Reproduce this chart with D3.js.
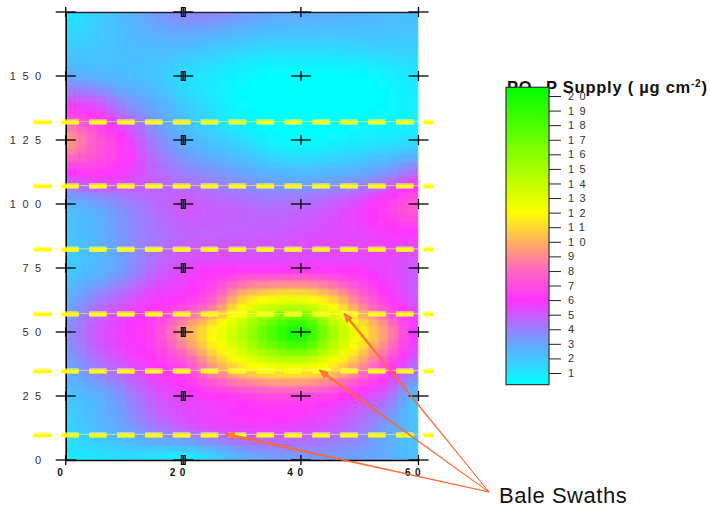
<!DOCTYPE html>
<html>
<head>
<meta charset="utf-8">
<style>
  html, body { margin: 0; background: #fff; }
  svg { display: block; font-family: "Liberation Sans", Arial, sans-serif; }
</style>
</head>
<body>
<div id="chart"></div>
<script src="https://cdn.jsdelivr.net/npm/d3@7"></script>
<script>
const width = 710, height = 510;

// sample positions of the field
const gridX = [0, 5, 10, 15, 20, 25, 30, 35, 40, 45, 50, 55, 60];
const gridY = [175, 162.5, 150, 137.5, 125, 112.5, 100, 87.5, 75, 62.5, 50, 37.5, 25, 12.5, 0];
const supply = [
  [1.0, 1.6, 2.4, 3.2, 3.8, 3.8, 3.4, 3.0, 2.8, 2.7, 2.5, 2.3, 2.2],
  [1.7, 1.9, 2.2, 2.4, 2.4, 2.1, 1.8, 1.6, 1.6, 1.6, 1.7, 1.8, 1.8],
  [3.0, 2.6, 2.3, 2.0, 1.3, 0.9, 0.5, 0.2, 0.2, 0.2, 0.3, 0.6, 1.0],
  [6.0, 5.6, 4.0, 3.0, 1.9, 1.1, 0.4, 0.2, 0.1, 0.1, 0.2, 0.4, 0.7],
  [9.5, 7.5, 6.0, 4.0, 2.7, 1.9, 1.3, 0.6, 0.3, 0.5, 0.8, 1.0, 1.2],
  [6.0, 6.3, 5.8, 4.8, 4.0, 3.5, 3.0, 2.5, 2.3, 2.5, 2.8, 3.5, 4.5],
  [2.5, 3.0, 3.8, 4.5, 5.0, 4.8, 4.6, 4.4, 4.5, 4.9, 5.5, 6.5, 7.5],
  [2.0, 2.5, 3.5, 4.2, 4.7, 4.8, 4.9, 5.0, 5.2, 5.4, 5.5, 5.8, 5.8],
  [1.8, 2.4, 3.3, 4.6, 5.4, 5.8, 6.0, 6.0, 6.1, 6.0, 5.8, 5.5, 5.0],
  [2.8, 4.0, 5.0, 5.8, 6.3, 7.8, 11.0, 12.5, 12.8, 11.2, 8.5, 6.3, 5.0],
  [3.6, 5.0, 5.8, 6.6, 9.5, 12.0, 14.5, 18.0, 20.0, 15.5, 12.0, 9.0, 5.5],
  [3.0, 4.2, 5.2, 6.0, 7.0, 9.6, 11.8, 13.0, 13.3, 12.0, 9.5, 6.8, 4.5],
  [2.0, 2.6, 3.7, 5.0, 5.6, 6.0, 6.5, 7.0, 7.0, 6.5, 5.6, 4.5, 2.0],
  [1.5, 2.2, 3.0, 4.0, 4.8, 5.3, 5.6, 5.6, 5.4, 5.0, 4.2, 3.0, 2.0],
  [0.9, 1.0, 1.1, 0.9, 0.5, 1.3, 2.4, 3.0, 3.2, 3.1, 3.0, 2.7, 2.0]
];

const xTicks = [0, 20, 40, 60];
const yTicks = [0, 25, 50, 75, 100, 125, 150];
const crossY = [0, 25, 50, 75, 100, 125, 150, 175];
const legendTicks = d3.range(1, 21);
const swaths = [132, 107, 82.3, 57, 34.8, 9.8];
const swathExtent = [-5.5, 62.5];

const colorValues = [0.2, 1, 2, 3, 4, 6, 8, 10, 12, 20.6];
const colorStops = ["#00ffff", "#1fe6ff", "#45c4ff", "#66a6ff", "#9a80ff", "#ff33ff", "#ff66c2", "#ffb060", "#ffff00", "#00ff00"];

const calloutFrom = [72, -12.5];
const calloutTips = [[47.3, 57.4], [43.1, 35.2], [27.1, 10.2]];

const x = d3.scaleLinear().domain([0, 60]).range([65.7, 418.5]);
const y = d3.scaleLinear().domain([0, 175]).range([460, 12]);
const color = d3.scaleLinear().domain(colorValues).range(colorStops).clamp(true);
const legendY = d3.scaleLinear().domain([1, 20]).range([373, 96]);

const svg = d3.select("#chart").append("svg")
    .attr("width", width)
    .attr("height", height)
    .attr("viewBox", [0, 0, width, height]);

const defs = svg.append("defs");
defs.append("clipPath").attr("id", "plot")
  .append("rect")
    .attr("x", x(0)).attr("y", y(175))
    .attr("width", x(60) - x(0)).attr("height", y(0) - y(175));
defs.append("filter").attr("id", "soft")
    .attr("x", "-2%").attr("y", "-2%").attr("width", "104%").attr("height", "104%")
  .append("feGaussianBlur").attr("stdDeviation", 0.8);

// field: raster of small cells, like the gridded surface in the original
const nx = 35, ny = 60;
const dx = 60 / nx, dy = 175 / ny;
const colAt = d3.scaleLinear().domain(gridX).range(d3.range(gridX.length));
const rowAt = d3.scaleLinear().domain(gridY).range(d3.range(gridY.length));

function cubic(p0, p1, p2, p3, t) {
  return p1 + 0.5 * t * (p2 - p0 + t * (2 * p0 - 5 * p1 + 4 * p2 - p3 + t * (3 * (p1 - p2) + p3 - p0)));
}

function valueAt(px, py) {
  const c = colAt(px), r = rowAt(py);
  const c0 = Math.min(Math.floor(c), gridX.length - 2), r0 = Math.min(Math.floor(r), gridY.length - 2);
  const cl = i => Math.max(0, Math.min(gridX.length - 1, i));
  const rl = j => Math.max(0, Math.min(gridY.length - 1, j));
  const rowVal = j => {
    const row = supply[rl(j)];
    return cubic(row[cl(c0 - 1)], row[c0], row[c0 + 1], row[cl(c0 + 2)], c - c0);
  };
  return cubic(rowVal(r0 - 1), rowVal(r0), rowVal(r0 + 1), rowVal(r0 + 2), r - r0);
}

const cells = d3.cross(d3.range(nx), d3.range(ny), (i, j) => ({x0: i * dx, y0: j * dy}));

svg.append("g")
    .attr("clip-path", "url(#plot)")
  .append("g")
    .attr("filter", "url(#soft)")
    .attr("shape-rendering", "crispEdges")
  .selectAll("rect")
  .data(cells)
  .join("rect")
    .attr("x", d => x(d.x0))
    .attr("y", d => y(d.y0 + dy))
    .attr("width", x(dx) - x(0) + 0.5)
    .attr("height", y(0) - y(dy) + 0.5)
    .attr("fill", d => color(valueAt(d.x0 + dx / 2, d.y0 + dy / 2)));

// axes
const axisStyle = g => {
  g.selectAll(".domain").attr("stroke", "#000").attr("stroke-width", 1.6);
  g.selectAll(".tick line").remove();
};

svg.append("g")
    .attr("transform", `translate(${x(0)},0)`)
    .call(d3.axisLeft(y).tickValues(yTicks).tickSize(0).tickPadding(18).tickFormat(d3.format("d")))
    .call(axisStyle)
    .call(g => g.selectAll("text")
        .attr("font-family", "Liberation Sans, Arial, sans-serif")
        .attr("font-size", 11)
        .attr("letter-spacing", 6.5)
        .attr("fill", "#333"));

svg.append("g")
    .attr("transform", `translate(0,${y(0)})`)
    .call(d3.axisBottom(x).tickValues(xTicks).tickSize(0).tickPadding(9).tickFormat(d3.format("d")))
    .call(axisStyle)
    .call(g => g.selectAll("text")
        .attr("font-family", "Liberation Sans, Arial, sans-serif")
        .attr("font-size", 10)
        .attr("font-weight", "bold")
        .attr("letter-spacing", 4.5)
        .attr("dx", -4)
        .attr("fill", "#111"));

svg.append("g")
    .attr("transform", `translate(0,${y(175)})`)
    .call(d3.axisTop(x).tickValues([]).tickSize(0))
    .call(axisStyle)
    .call(g => g.select(".domain").attr("stroke", "#223"));

// sampling crosses
const crosses = d3.cross(xTicks, crossY, (a, b) => ({x: a, y: b}));
const cross = svg.append("g")
    .attr("stroke", "#000")
    .attr("stroke-width", 1.3)
  .selectAll("g")
  .data(crosses)
  .join("g")
    .attr("transform", d => `translate(${x(d.x)},${y(d.y)})`);
cross.append("line").attr("x1", -10).attr("x2", 10);
cross.append("line").attr("y1", -5).attr("y2", 5);
cross.filter(d => d.x === 20).append("rect")
    .attr("x", -2).attr("y", -4.5)
    .attr("width", 4).attr("height", 9)
    .attr("fill", "#334")
    .attr("fill-opacity", 0.6)
    .attr("stroke-width", 1);

// bale swaths
const swath = svg.append("g").selectAll("g").data(swaths).join("g");
swath.append("line")
    .attr("x1", x(swathExtent[0])).attr("x2", x(swathExtent[1]))
    .attr("y1", d => y(d) - 0.5).attr("y2", d => y(d) - 0.5)
    .attr("stroke", "#ffff80").attr("stroke-opacity", 0.6).attr("stroke-width", 1);
swath.append("line")
    .attr("x1", x(swathExtent[0])).attr("x2", x(swathExtent[1]))
    .attr("y1", d => y(d)).attr("y2", d => y(d))
    .attr("stroke", "#ffff60").attr("stroke-opacity", 0.7).attr("stroke-width", 5.5)
    .attr("stroke-dasharray", "17.5,10.4");
swath.append("line")
    .attr("x1", x(swathExtent[0])).attr("x2", x(swathExtent[1]))
    .attr("y1", d => y(d) + 0.5).attr("y2", d => y(d) + 0.5)
    .attr("stroke", "#ffff00").attr("stroke-width", 3)
    .attr("stroke-dasharray", "17.5,10.4");

// callout arrows
const arrow = svg.append("g").selectAll("g").data(calloutTips).join("g");
arrow.append("path")
    .attr("fill", "#ff7a45")
    .attr("stroke", "#ff5a1e")
    .attr("stroke-width", 0.7)
    .attr("d", d => {
      const ox = x(calloutFrom[0]), oy = y(calloutFrom[1]);
      const tx = x(d[0]), ty = y(d[1]);
      const a = Math.atan2(ty - oy, tx - ox);
      const nxv = -Math.sin(a), nyv = Math.cos(a);
      const bx = tx - 9 * Math.cos(a), by = ty - 9 * Math.sin(a);
      return `M${ox},${oy}L${bx + nxv * 0.9},${by + nyv * 0.9}L${bx + nxv * 3.5},${by + nyv * 3.5}L${tx},${ty}L${bx - nxv * 3.5},${by - nyv * 3.5}L${bx - nxv * 0.9},${by - nyv * 0.9}Z`;
    });

svg.append("text")
    .attr("x", 499)
    .attr("y", 502.5)
    .attr("font-size", 22)
    .attr("letter-spacing", 0.55)
    .attr("fill", "#111")
    .text("Bale Swaths");

// legend title goes under the bar, as in the original
const title = svg.append("text")
    .attr("x", 507)
    .attr("y", 92.5)
    .attr("font-size", 16.5)
    .attr("font-weight", "bold")
    .attr("letter-spacing", 0.75)
    .attr("fill", "#111");
title.append("tspan").text("PO");
title.append("tspan").attr("font-size", 12).attr("dy", 3).text("4");
title.append("tspan").attr("dy", -3).text("-P Supply ( µg cm");
title.append("tspan").attr("font-size", 10).attr("dy", -6).text("-2");
title.append("tspan").attr("dy", 6).text(")");

// legend bar
const grad = defs.append("linearGradient")
    .attr("id", "ramp")
    .attr("x1", 0).attr("x2", 0).attr("y1", 1).attr("y2", 0);
const vMin = colorValues[0], vMax = colorValues[colorValues.length - 1];
grad.selectAll("stop").data(colorValues).join("stop")
    .attr("offset", d => (d - vMin) / (vMax - vMin))
    .attr("stop-color", d => color(d));

svg.append("rect")
    .attr("x", 506)
    .attr("y", legendY(vMax))
    .attr("width", 43)
    .attr("height", legendY(vMin) - legendY(vMax))
    .attr("fill", "url(#ramp)")
    .attr("stroke", "#333")
    .attr("stroke-width", 1.2);

svg.append("g")
    .attr("transform", "translate(549,0)")
    .call(d3.axisRight(legendY).tickValues(legendTicks).tickSize(12).tickPadding(7).tickFormat(d3.format("d")))
    .call(g => g.select(".domain").remove())
    .call(g => g.selectAll(".tick line").attr("stroke", "#222").attr("stroke-width", 1))
    .call(g => g.selectAll("text")
        .attr("font-family", "Liberation Sans, Arial, sans-serif")
        .attr("font-size", 11)
        .attr("letter-spacing", 5.5)
        .attr("fill", "#333"));
</script>
</body>
</html>
